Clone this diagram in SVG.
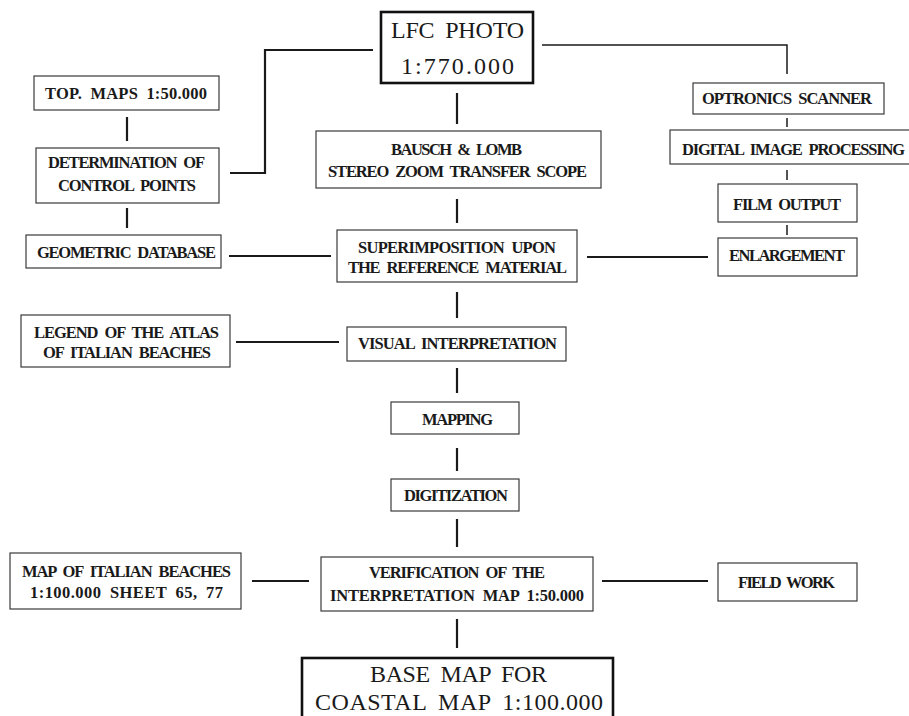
<svg xmlns="http://www.w3.org/2000/svg" width="909" height="716" viewBox="0 0 909 716">
<style>
.b{fill:#fff;stroke:#3a3a3a;stroke-width:1.2}
.B{fill:#fff;stroke:#111;stroke-width:2.6}
.t{font-family:"Liberation Serif","Times New Roman",serif;font-weight:bold;font-size:16.5px;word-spacing:4px;fill:#1a1a1a}
.T{font-family:"Liberation Serif","Times New Roman",serif;font-size:24px;word-spacing:5px;fill:#1a1a1a}
.c{fill:none;stroke:#1a1a1a;stroke-width:2.2}
.s{fill:none;stroke:#1a1a1a;stroke-width:1.5}
</style>
<rect width="909" height="716" fill="#fff"/>
<g id="connectors">
<path class="c" d="M373,50 H265 V173 H230"/>
<path class="s" d="M542,45 H787 V74"/>
<path class="c" d="M127,117 V141"/>
<path class="c" d="M127,208 V228"/>
<path class="c" d="M229,256 H331"/>
<path class="c" d="M457,93 V124"/>
<path class="c" d="M457,199 V223"/>
<path class="c" d="M457,292 V318"/>
<path class="c" d="M236,342 H339"/>
<path class="c" d="M457,368 V393"/>
<path class="c" d="M457,448 V471"/>
<path class="c" d="M457,519 V547"/>
<path class="c" d="M252,581 H309"/>
<path class="c" d="M602,581 H708"/>
<path class="c" d="M457,619 V648"/>
<path class="s" d="M787,118 V127"/>
<path class="s" d="M787,170 V180"/>
<path class="s" d="M787,225 V235"/>
<path class="c" d="M587,257 H708"/>
</g>
<g id="n-topmaps"><rect class="b" x="34" y="76" width="185" height="34"/><text class="t" x="45" y="99" textLength="162" lengthAdjust="spacing">TOP. MAPS 1:50.000</text></g>
<g id="n-determination"><rect class="b" x="36" y="148" width="183" height="55"/><text class="t" x="48" y="168" textLength="157" lengthAdjust="spacing">DETERMINATION OF</text><text class="t" x="58" y="191" textLength="138" lengthAdjust="spacing">CONTROL POINTS</text></g>
<g id="n-geometric"><rect class="b" x="26" y="235" width="195" height="33"/><text class="t" x="37" y="258" textLength="179" lengthAdjust="spacing">GEOMETRIC DATABASE</text></g>
<g id="n-legend"><rect class="b" x="21" y="315" width="209" height="52"/><text class="t" x="34" y="338" textLength="185" lengthAdjust="spacing">LEGEND OF THE ATLAS</text><text class="t" x="43" y="358" textLength="168" lengthAdjust="spacing">OF ITALIAN BEACHES</text></g>
<g id="n-mapitalian"><rect class="b" x="10" y="553" width="231" height="56"/><text class="t" x="22" y="577" textLength="209" lengthAdjust="spacing">MAP OF ITALIAN BEACHES</text><text class="t" x="30" y="598" textLength="193" lengthAdjust="spacing">1:100.000 SHEET 65, 77</text></g>
<g id="n-lfc"><rect class="B" x="381" y="12" width="152" height="71"/><text class="T" x="391" y="38" textLength="133" lengthAdjust="spacing">LFC PHOTO</text><text class="T" x="401" y="74" textLength="113" lengthAdjust="spacing">1:770.000</text></g>
<g id="n-bausch"><rect class="b" x="316" y="131" width="285" height="57"/><text class="t" x="391" y="155" textLength="131" lengthAdjust="spacing">BAUSCH &amp; LOMB</text><text class="t" x="328" y="177" textLength="259" lengthAdjust="spacing">STEREO ZOOM TRANSFER SCOPE</text></g>
<g id="n-superimposition"><rect class="b" x="337" y="230" width="240" height="52"/><text class="t" x="358" y="253" textLength="198" lengthAdjust="spacing">SUPERIMPOSITION UPON</text><text class="t" x="348" y="273" textLength="219" lengthAdjust="spacing">THE REFERENCE MATERIAL</text></g>
<g id="n-visual"><rect class="b" x="347" y="327" width="219" height="34"/><text class="t" x="358" y="349" textLength="199" lengthAdjust="spacing">VISUAL INTERPRETATION</text></g>
<g id="n-mapping"><rect class="b" x="391" y="402" width="128" height="32"/><text class="t" x="422" y="425" textLength="71" lengthAdjust="spacing">MAPPING</text></g>
<g id="n-digitization"><rect class="b" x="391" y="479" width="128" height="32"/><text class="t" x="404" y="501" textLength="104" lengthAdjust="spacing">DIGITIZATION</text></g>
<g id="n-verification"><rect class="b" x="321" y="557" width="272" height="54"/><text class="t" x="369" y="578" textLength="176" lengthAdjust="spacing">VERIFICATION OF THE</text><text class="t" x="330" y="601" textLength="254" lengthAdjust="spacing">INTERPRETATION MAP 1:50.000</text></g>
<g id="n-basemap"><rect class="B" x="302" y="658" width="311" height="64"/><text class="T" x="370" y="682" textLength="177" lengthAdjust="spacing">BASE MAP FOR</text><text class="T" x="315" y="710" textLength="288" lengthAdjust="spacing">COASTAL MAP 1:100.000</text></g>
<g id="n-optronics"><rect class="b" x="693" y="83" width="191" height="31"/><text class="t" x="702" y="104" textLength="170" lengthAdjust="spacing">OPTRONICS SCANNER</text></g>
<g id="n-digital"><rect class="b" x="670" y="130" width="245" height="34"/><text class="t" x="682" y="155" textLength="223" lengthAdjust="spacing">DIGITAL IMAGE PROCESSING</text></g>
<g id="n-film"><rect class="b" x="718" y="184" width="139" height="38"/><text class="t" x="733" y="210" textLength="108" lengthAdjust="spacing">FILM OUTPUT</text></g>
<g id="n-enlargement"><rect class="b" x="718" y="238" width="139" height="38"/><text class="t" x="729" y="261" textLength="116" lengthAdjust="spacing">ENLARGEMENT</text></g>
<g id="n-fieldwork"><rect class="b" x="718" y="563" width="139" height="38"/><text class="t" x="738" y="588" textLength="97" lengthAdjust="spacing">FIELD WORK</text></g>
</svg>
